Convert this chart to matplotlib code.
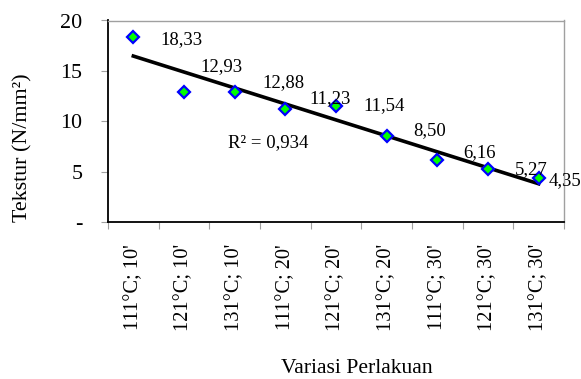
import numpy as np
import matplotlib.pyplot as plt

plt.rcParams['font.family'] = ['Liberation Serif', 'DejaVu Serif']
plt.rcParams['font.size'] = 13.5

perlakuan = ["111°C; 10'", "121°C; 10'", "131°C; 10'",
             "111°C; 20'", "121°C; 20'", "131°C; 20'",
             "111°C; 30'", "121°C; 30'", "131°C; 30'"]
tekstur = [18.33, 12.93, 12.88, 11.23, 11.54, 8.50, 6.16, 5.27, 4.35]
# label offsets (pixels) as placed on the chart
label_dx = [48, 37, 49, 45, 48, 43, 42, 43, 26]
label_dy = [-2, 25, 10, 10, 0, 6, 7, -1, -2]

x = np.arange(1, len(tekstur) + 1)
y = np.array(tekstur)

fig = plt.figure(figsize=(5.81, 3.79), dpi=100)
ax = fig.add_axes([108/581, 1 - 222/379, (564-108)/581, (222-20.5)/379])

# linear trend line
a, b = np.polyfit(x, y, 1)
fit = a * x + b
r2 = 1 - np.sum((y - fit)**2) / np.sum((y - y.mean())**2)
ax.plot([x[0], x[-1]], [fit[0], fit[-1]], color='k', lw=2.6, zorder=2)

ax.plot(x, y, linestyle='none', marker='D', markersize=6.5,
        markerfacecolor='#00ff00', markeredgecolor='#0000ff', markeredgewidth=1.6, zorder=3)

for xi, yi, dx, dy in zip(x, y, label_dx, label_dy):
    ax.annotate(f'{yi:.2f}'.replace('.', ','), (xi, yi), xytext=(dx, dy),
                textcoords='offset pixels', ha='center', va='center', zorder=4)

ax.text(2.87, 7.84, 'R² = ' + f'{r2:.3f}'.replace('.', ','), ha='left', va='center')

ax.set_xlim(0.5, len(tekstur) + 0.5)
ax.set_ylim(0, 20)
ax.set_yticks([0, 5, 10, 15, 20])
ax.set_yticklabels(['-', '5', '10', '15', '20'], fontsize=15.8)
ax.set_xticks(np.arange(0.5, len(tekstur) + 1, 1))
ax.set_xticklabels([])
ax.set_xticks(x, minor=True)
ax.set_xticklabels(perlakuan, minor=True, rotation=90, fontsize=14.7)
ax.tick_params(axis='x', which='minor', length=0, pad=16)
ax.tick_params(axis='x', which='major', length=5, color='#a0a0a0')
ax.tick_params(axis='y', length=5, color='#a0a0a0', pad=13.4)

for s in ['top', 'right']:
    ax.spines[s].set_color('#a0a0a0')
    ax.spines[s].set_linewidth(1)
for s in ['left', 'bottom']:
    ax.spines[s].set_color('k')
    ax.spines[s].set_linewidth(1.3)

fig.text(23/581, 1 - 148/379, 'Tekstur (N/mm²)', rotation=90, ha='center', va='center', fontsize=15.8)
fig.text(357/581, 1 - 378/379, 'Variasi Perlakuan', ha='center', va='bottom', fontsize=15.6)

fig.savefig('out.png', dpi=100)
